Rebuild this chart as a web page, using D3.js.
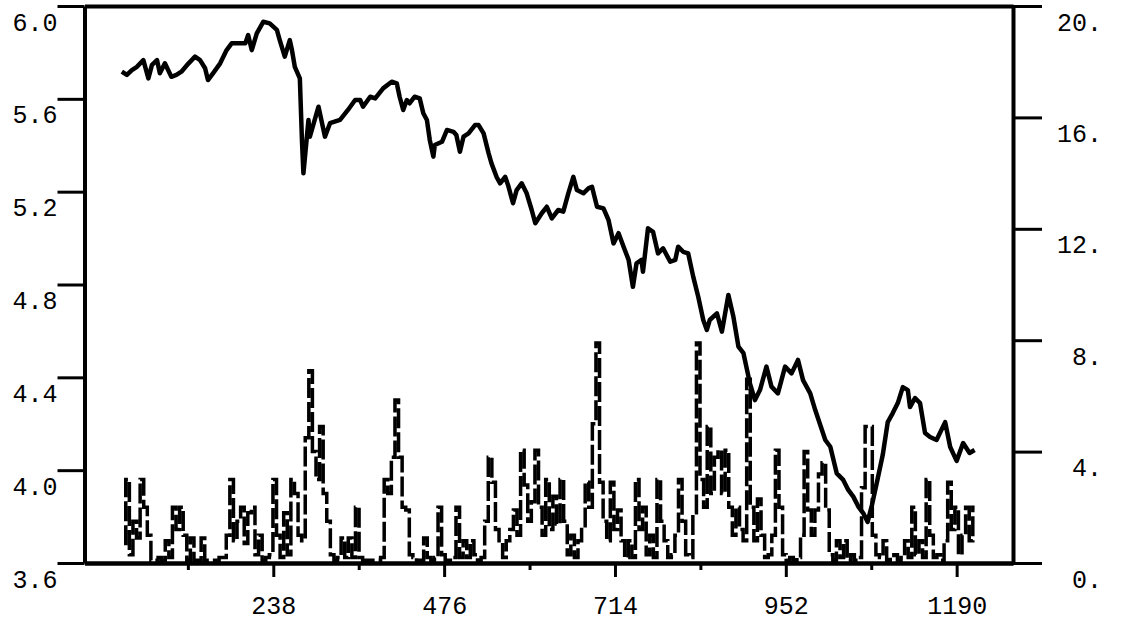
<!DOCTYPE html>
<html lang="en">
<style>
body { margin: 0; background: white; }
svg { display: block; }
.axis path, .axis line { stroke: black; }
.axis path { stroke-width: 4px; }
.axis line { stroke-width: 3px; }
.axis text { font-family: "Liberation Mono", monospace; font-size: 25px; fill: black; }
</style>
<svg width="1121" height="622"></svg>
<script src="https://d3js.org/d3.v7.min.js"></script>
<script>
// price line (left axis)
var priceX = [27,34,41,48,57,64,69,76,80,87,
    96,103,110,120,129,136,143,147,154,164,
    173,180,199,203,208,215,224,233,243,247,
    254,261,264,268,275,278,280,287,289,301,
    310,317,331,342,352,359,363,373,380,391,
    403,410,414,419,424,428,435,442,447,452,
    456,461,463,473,480,489,493,498,503,510,
    519,524,531,538,542,549,554,561,565,572,
    577,584,591,598,603,612,619,626,635,642,
    649,656,661,670,677,682,689,698,705,712,
    719,726,733,739,744,751,753,760,767,774,
    781,791,798,802,809,816,823,830,837,842,
    846,856,863,872,879,886,893,902,909,916,
    925,932,941,951,960,969,976,986,993,1000,
    1007,1014,1023,1032,1039,1046,1053,1060,1066,1072,
    1079,1087,1094,1101,1108,1115,1122,1125,1132,1139,
    1146,1153,1162,1174,1181,1190,1199,1208,1215];
var priceY = [5.717,5.703,5.724,5.738,5.767,5.688,5.746,5.767,5.710,5.753,
    5.695,5.703,5.717,5.753,5.782,5.767,5.732,5.681,5.710,5.753,
    5.810,5.839,5.839,5.875,5.810,5.882,5.932,5.925,5.897,5.853,
    5.782,5.853,5.810,5.738,5.688,5.415,5.279,5.509,5.437,5.566,
    5.437,5.495,5.509,5.552,5.595,5.595,5.566,5.609,5.602,5.645,
    5.674,5.667,5.609,5.552,5.595,5.581,5.609,5.602,5.538,5.509,
    5.423,5.351,5.401,5.415,5.466,5.458,5.444,5.372,5.437,5.451,
    5.487,5.487,5.451,5.365,5.322,5.264,5.236,5.264,5.229,5.150,
    5.207,5.236,5.193,5.121,5.064,5.107,5.135,5.085,5.121,5.114,
    5.193,5.264,5.207,5.193,5.214,5.221,5.135,5.128,5.078,4.977,
    5.021,4.963,4.906,4.790,4.891,4.906,4.855,5.042,5.027,4.934,
    4.956,4.898,4.906,4.963,4.941,4.934,4.834,4.747,4.647,4.604,
    4.647,4.676,4.597,4.755,4.661,4.532,4.504,4.374,4.302,4.345,
    4.446,4.360,4.331,4.446,4.417,4.475,4.388,4.331,4.259,4.195,
    4.130,4.101,3.986,3.958,3.915,3.886,3.843,3.814,3.777,3.850,
    3.949,4.065,4.207,4.246,4.289,4.358,4.345,4.272,4.311,4.289,
    4.160,4.143,4.130,4.207,4.100,4.040,4.117,4.074,4.087];

// volume series (right axis), one value every volStep days from volStart
var volStart = 30, volStep = 5;
var vol = [0.7,3.0,0.3,1.5,0.9,3.0,2.0,1.0,0.1,0.1,
    0.2,0.1,0.8,0.2,2.0,1.2,2.0,1.0,0.1,0.9,
    0.1,0.1,0.9,0.1,0.1,0.1,0.1,0.2,0.2,1.0,
    3.0,0.8,1.5,2.0,0.7,1.8,2.0,0.3,1.0,0.1,
    0.2,0.3,3.0,1.0,0.2,1.8,0.3,3.0,2.5,1.0,
    0.8,4.5,6.9,4.0,3.0,4.9,2.5,1.5,0.3,0.1,
    0.2,0.9,0.2,0.9,0.2,2.0,0.2,0.1,0.1,0.1,
    0.1,0.1,0.2,3.0,2.5,3.8,5.85,3.8,2.0,1.9,
    0.3,0.2,0.1,0.1,0.9,0.2,0.1,0.2,2.0,0.3,
    0.1,0.1,0.2,2.0,0.2,0.8,0.2,0.8,0.3,0.1,
    0.2,1.5,3.8,2.9,1.2,0.8,0.2,0.8,1.2,1.9,
    1.0,4.05,2.8,1.5,2.2,4.05,2.0,1.0,3.0,1.2,
    2.4,1.4,3.0,1.5,0.3,1.0,0.2,0.8,1.2,2.9,
    2.0,5.0,7.9,2.9,1.5,0.8,2.9,1.2,1.9,0.8,
    0.2,0.8,0.2,3.0,1.2,2.0,0.3,1.0,0.2,3.0,
    1.5,0.8,0.2,0.3,1.0,3.0,1.5,0.3,0.2,1.8,
    7.9,3.0,2.0,4.9,2.5,3.8,4.05,2.5,4.05,2.0,
    1.0,2.0,1.2,0.8,6.6,2.0,0.8,2.3,1.0,0.2,
    0.3,1.0,4.05,2.0,0.3,0.1,0.2,0.1,0.2,1.0,
    4.0,1.9,1.0,1.9,3.2,3.6,1.9,0.3,0.1,0.8,
    0.2,0.8,0.1,0.3,0.1,0.2,2.7,4.9,4.9,1.0,
    0.3,0.2,0.8,0.1,0.2,0.3,0.1,0.2,0.8,0.2,
    2.0,0.3,0.8,0.2,3.0,1.0,0.2,0.3,0.1,0.8,
    2.9,1.2,2.0,0.3,1.0,2.0,0.8,2.0];

var xTicks = [238, 476, 714, 952, 1190];
var xMinorTicks = [119, 357, 595, 833, 1071];
var leftTicks = [3.6, 4.0, 4.4, 4.8, 5.2, 5.6, 6.0];
var rightTicks = [0, 4, 8, 12, 16, 20];

var svg = d3.select("svg");
var plotL = 84.5, plotR = 1013, plotT = 6, plotB = 563;

var x = d3.scaleLinear().domain([-25, 1268.5]).range([plotL, plotR]);
var yL = d3.scaleLinear().domain([3.6, 6.0]).range([plotB, plotT]);
var yR = d3.scaleLinear().domain([0, 20]).range([plotB, plotT]);

// volume, dashed
var volData = vol.map(function(v, i) { return {x: volStart + i * volStep, y: v}; });
svg.append("path")
    .datum(volData)
    .attr("fill", "none")
    .attr("stroke", "black")
    .attr("stroke-width", 3.5)
    .attr("stroke-dasharray", "20,4")
    .attr("d", d3.line().curve(d3.curveStep)
        .x(function(d) { return x(d.x); }).y(function(d) { return yR(d.y); }));

// price, solid
var priceData = priceX.map(function(v, i) { return {x: v, y: priceY[i]}; });
svg.append("path")
    .datum(priceData)
    .attr("fill", "none")
    .attr("stroke", "black")
    .attr("stroke-width", 4.5)
    .attr("stroke-linejoin", "round")
    .attr("d", d3.line().x(function(d) { return x(d.x); }).y(function(d) { return yL(d.y); }));

// top frame line
svg.append("g").attr("class", "axis")
    .attr("transform", "translate(0," + plotT + ")")
    .call(d3.axisTop(x).tickValues([]).tickSizeOuter(0));

// bottom axis, minor ticks then major ticks with labels
svg.append("g").attr("class", "axis")
    .attr("transform", "translate(0," + plotB + ")")
    .call(d3.axisBottom(x).tickValues(xMinorTicks).tickSize(7).tickSizeOuter(0).tickFormat(""));
svg.append("g").attr("class", "axis")
    .attr("transform", "translate(0," + plotB + ")")
    .call(d3.axisBottom(x).tickValues(xTicks).tickSize(14).tickSizeOuter(0).tickFormat(d3.format("d")))
    .selectAll("text").attr("y", 42).attr("dy", "0.35em");

var gl = svg.append("g").attr("class", "axis")
    .attr("transform", "translate(" + plotL + ",0)")
    .call(d3.axisLeft(yL).tickValues(leftTicks).tickSize(27).tickSizeOuter(0).tickFormat(d3.format(".1f")));
gl.selectAll("text").attr("x", -27).attr("y", 16);

var gr = svg.append("g").attr("class", "axis")
    .attr("transform", "translate(" + plotR + ",0)")
    .call(d3.axisRight(yR).tickValues(rightTicks).tickSize(29).tickSizeOuter(0).tickFormat(function(d) { return d + "."; }));
gr.selectAll("text").attr("x", 89).attr("y", 16).style("text-anchor", "end");
</script>
